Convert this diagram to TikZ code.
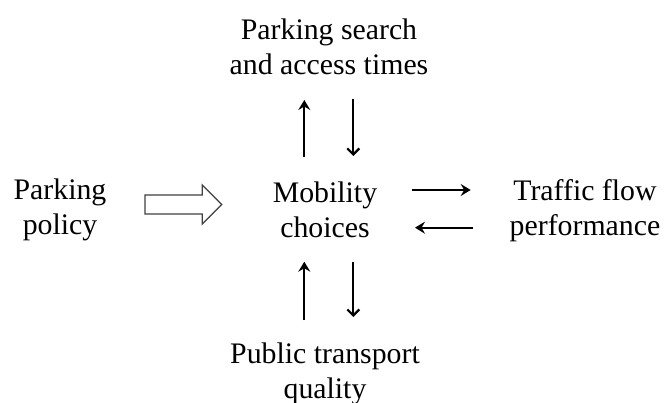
\documentclass[tikz,border=0pt]{standalone}
\usepackage{fontspec}
\setmainfont{Liberation Serif}
\usetikzlibrary{arrows.meta}
\begin{document}
\begin{tikzpicture}[x=1pt,y=-1pt,
  lbl/.style={inner sep=0pt,align=center,anchor=base,
    font=\fontsize{29.8pt}{35pt}\selectfont},
  arrA/.style={line width=2.2pt,-{Stealth[length=10pt,width=12pt,inset=3.5pt]}},
  arrB/.style={line width=2.2pt,-{Straight Barb[length=6pt,width=12pt,line width=2.2pt]}},
  hollow/.style={draw=black!75,line width=1.3pt,fill=white,line join=miter}]
\useasboundingbox (0,0) rectangle (666,403);
\node[lbl] (park) at (60,235) {Parking\\policy};
\node[lbl] (search) at (329,74.5) {Parking search\\and access times};
\node[lbl] (mob) at (325,237) {Mobility\\choices};
\node[lbl] (traffic) at (585,236) {Traffic flow\\performance};
\node[lbl] (pt) at (325,398) {Public transport\\quality};
% connector end points
\coordinate (mu1) at (304.3,157);
\coordinate (su1) at (304.3,100);
\coordinate (sd1) at (353.3,99.5);
\coordinate (md1) at (353.3,156);
\coordinate (mr1) at (411.7,190);
\coordinate (tr1) at (470.7,190);
\coordinate (tl1) at (472.7,227.7);
\coordinate (ml1) at (415,227.7);
\coordinate (pu1) at (304.3,320);
\coordinate (mu2) at (304.3,261.7);
\coordinate (md2) at (353.3,261.7);
\coordinate (pd1) at (353.3,317);
\draw[arrA] (mu1) -- (su1);
\draw[arrB] (sd1) -- (md1);
\draw[arrA] (mr1) -- (tr1);
\draw[arrA] (tl1) -- (ml1);
\draw[arrA] (pu1) -- (mu2);
\draw[arrB] (md2) -- (pd1);
% hollow block arrow from policy to mobility choices
\coordinate (h0) at (145,204.5);
\coordinate (h1) at (221.7,204.5);
\draw[hollow] (h0) ++(0,-9.5) -- (202.3,195) -- (202.3,185) -- (h1)
  -- (202.3,224) -- (202.3,214) -- (145,214) -- cycle;
\end{tikzpicture}
\end{document}
